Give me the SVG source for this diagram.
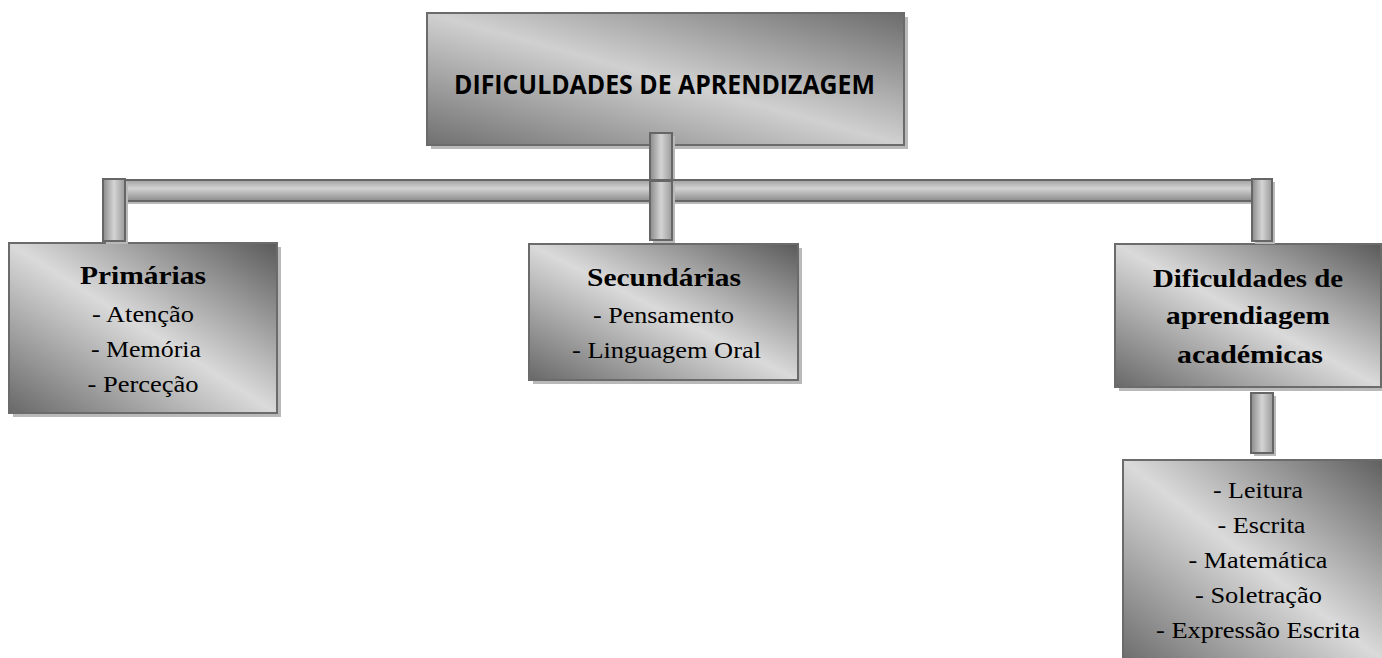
<svg xmlns="http://www.w3.org/2000/svg" width="1382" height="658" viewBox="0 0 1382 658">
<defs>
<linearGradient id="boxg" x1="1" y1="0" x2="0" y2="1">
<stop offset="0" stop-color="#5a5a5a"/>
<stop offset="0.5" stop-color="#dadada"/>
<stop offset="1" stop-color="#686868"/>
</linearGradient>
<linearGradient id="topg" x1="1" y1="0" x2="0" y2="1">
<stop offset="0" stop-color="#6c6c6c"/>
<stop offset="0.5" stop-color="#d0d0d0"/>
<stop offset="1" stop-color="#707070"/>
</linearGradient>
<linearGradient id="hbar" x1="0" y1="0" x2="0" y2="1">
<stop offset="0" stop-color="#a0a0a0"/>
<stop offset="0.4" stop-color="#d2d2d2"/>
<stop offset="1" stop-color="#8c8c8c"/>
</linearGradient>
<linearGradient id="vbar" x1="0" y1="0" x2="1" y2="0">
<stop offset="0" stop-color="#8a8a8a"/>
<stop offset="0.5" stop-color="#d4d4d4"/>
<stop offset="1" stop-color="#9a9a9a"/>
</linearGradient>
</defs>
<style>
.box{stroke:#6b6b6b;stroke-width:2}
.sh{fill:#b9b9b9}
.pipe{stroke:#666;stroke-width:2}
</style>
<rect width="1382" height="658" fill="#fff"/>

<g id="node-top">
<rect class="sh" x="431" y="17" width="477" height="132"/>
<rect class="box" x="427" y="13" width="477" height="132" fill="url(#topg)"/>
<text font-family="Open Sans" font-weight="bold" font-size="26" x="454" y="94" textLength="421" lengthAdjust="spacingAndGlyphs">DIFICULDADES DE APRENDIZAGEM</text>
</g>

<g id="node-primarias" font-family="Liberation Serif" font-size="24">
<rect class="sh" x="13" y="247" width="268" height="170"/>
<rect class="box" x="9" y="243" width="268" height="170" fill="url(#boxg)"/>
<text font-weight="bold" font-size="25.5" x="80" y="284" textLength="126" lengthAdjust="spacingAndGlyphs">Primárias</text>
<text x="92" y="321.5" textLength="102" lengthAdjust="spacingAndGlyphs">- Atenção</text>
<text x="91" y="356.5" textLength="110" lengthAdjust="spacingAndGlyphs">- Memória</text>
<text x="87.5" y="391.5" textLength="111" lengthAdjust="spacingAndGlyphs">- Perceção</text>
</g>

<g id="node-secundarias" font-family="Liberation Serif" font-size="24">
<rect class="sh" x="533" y="248" width="269" height="136"/>
<rect class="box" x="529" y="244" width="269" height="136" fill="url(#boxg)"/>
<text font-weight="bold" font-size="25.5" x="587" y="285.5" textLength="154" lengthAdjust="spacingAndGlyphs">Secundárias</text>
<text x="593" y="323" textLength="141" lengthAdjust="spacingAndGlyphs">- Pensamento</text>
<text x="572" y="357.5" textLength="189" lengthAdjust="spacingAndGlyphs">- Linguagem Oral</text>
</g>

<g id="node-academicas" font-family="Liberation Serif" font-size="25.5" font-weight="bold">
<rect class="sh" x="1119" y="248" width="266" height="143"/>
<rect class="box" x="1115" y="244" width="266" height="143" fill="url(#boxg)"/>
<text x="1153" y="286.5" textLength="190" lengthAdjust="spacingAndGlyphs">Dificuldades de</text>
<text x="1166" y="324" textLength="164" lengthAdjust="spacingAndGlyphs">aprendiagem</text>
<text x="1177" y="363" textLength="146" lengthAdjust="spacingAndGlyphs">académicas</text>
</g>

<g id="node-academicas-lista" font-family="Liberation Serif" font-size="24">
<rect class="sh" x="1127" y="464" width="272" height="210"/>
<rect class="box" x="1123" y="460" width="272" height="210" fill="url(#boxg)"/>
<text x="1213" y="497.5" textLength="90" lengthAdjust="spacingAndGlyphs">- Leitura</text>
<text x="1217.5" y="532.5" textLength="88" lengthAdjust="spacingAndGlyphs">- Escrita</text>
<text x="1188.5" y="568" textLength="139" lengthAdjust="spacingAndGlyphs">- Matemática</text>
<text x="1195" y="603" textLength="127" lengthAdjust="spacingAndGlyphs">- Soletração</text>
<text x="1156" y="638" textLength="204" lengthAdjust="spacingAndGlyphs">- Expressão Escrita</text>
</g>

<g id="connectors">
<rect class="sh" x="653" y="136" width="22" height="48"/>
<rect class="pipe" x="650" y="133" width="22" height="48" fill="url(#vbar)"/>
<rect class="sh" x="113" y="183" width="1152" height="21"/>
<rect class="pipe" x="110" y="180" width="1152" height="21" fill="url(#hbar)"/>
<rect class="sh" x="106" y="182" width="22" height="62"/>
<rect class="pipe" x="103" y="179" width="22" height="62" fill="url(#vbar)"/>
<rect class="sh" x="653" y="184" width="22" height="59"/>
<rect class="pipe" x="650" y="181" width="22" height="59" fill="url(#vbar)"/>
<rect class="sh" x="1255" y="182" width="20" height="62"/>
<rect class="pipe" x="1252" y="179" width="20" height="62" fill="url(#vbar)"/>
<rect class="sh" x="1254" y="396" width="22" height="60"/>
<rect class="pipe" x="1251" y="393" width="22" height="60" fill="url(#vbar)"/>
</g>
</svg>
